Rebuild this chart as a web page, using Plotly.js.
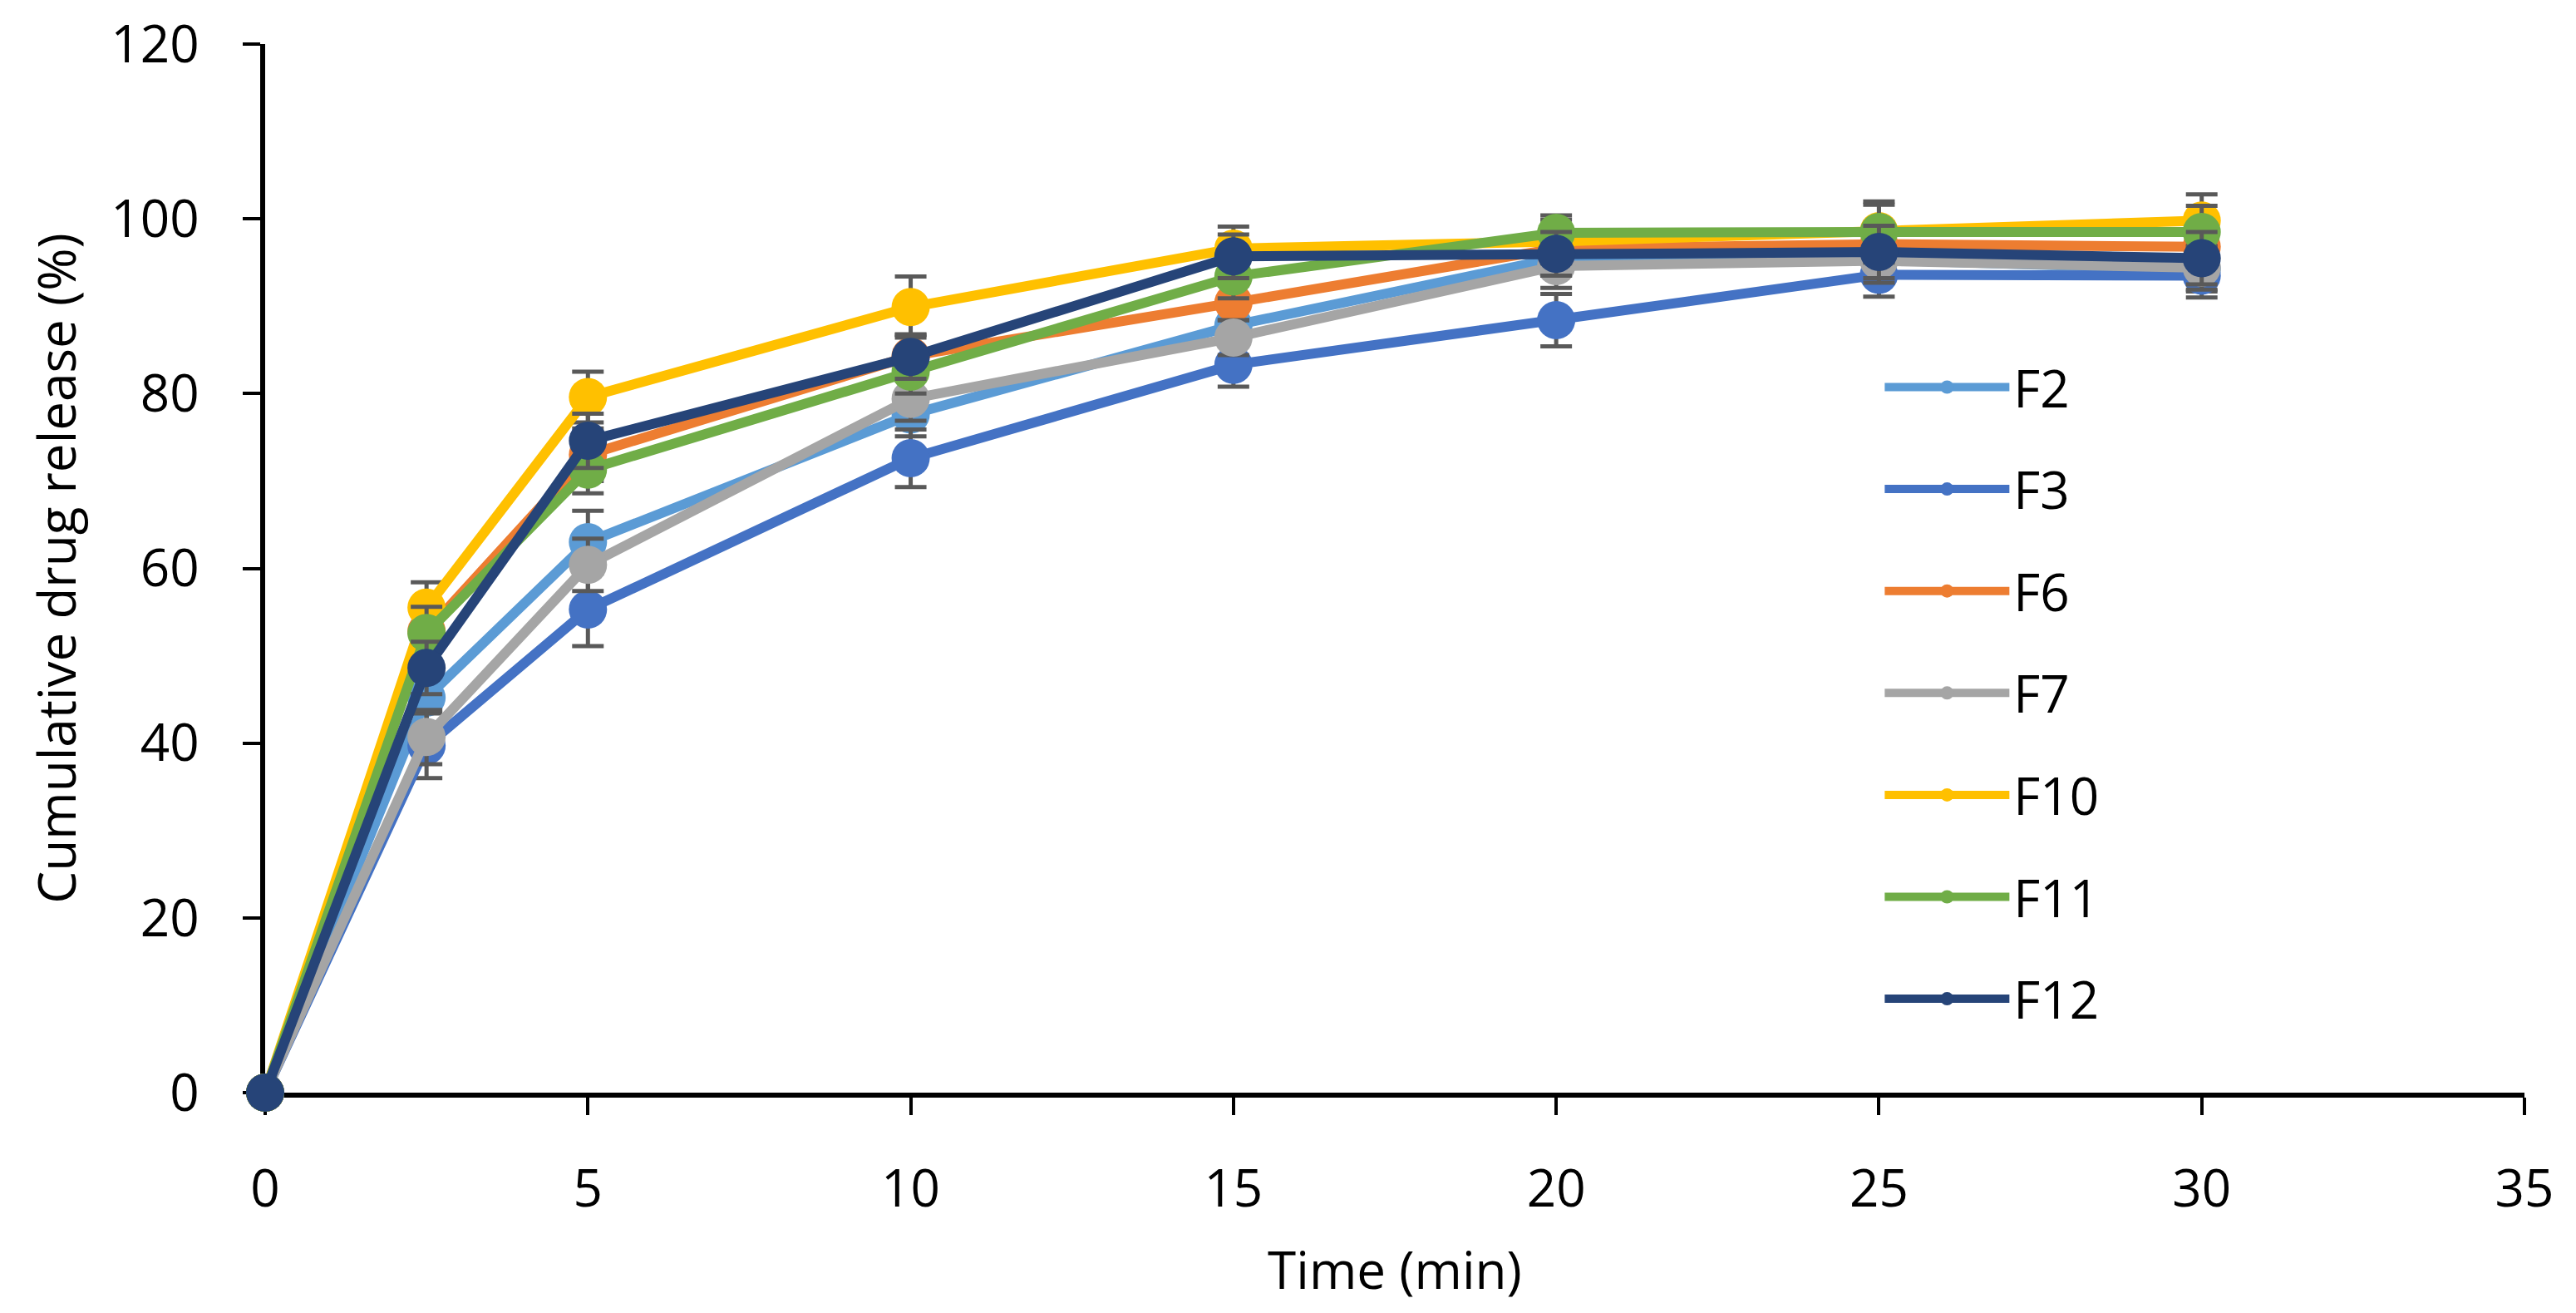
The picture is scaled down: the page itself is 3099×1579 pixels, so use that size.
<!DOCTYPE html>
<html>
<head>
<meta charset="utf-8">
<script src="https://cdn.plot.ly/plotly-3.0.1.min.js"></script>
<style>html,body{margin:0;padding:0;background:#fff;}#chart{width:3099px;height:1579px;}</style>
</head>
<body>
<div id="chart"></div>
<script>
// Time points (min)
const time = [0, 2.5, 5, 10, 15, 20, 25, 30];

// Series names
const seriesNames = ["F2", "F3", "F6", "F7", "F10", "F11", "F12"];

// Cumulative drug release (%)
const F2  = [0, 45.2, 63.0, 77.6, 87.8, 95.5, 95.3, 94.2];
const F3  = [0, 39.7, 55.3, 72.6, 83.3, 88.4, 93.6, 93.5];
const F6  = [0, 52.8, 73.0, 84.3, 90.4, 96.6, 97.1, 96.8];
const F7  = [0, 40.7, 60.4, 79.4, 86.4, 94.6, 95.2, 94.4];
const F10 = [0, 55.5, 79.6, 89.9, 96.6, 97.4, 98.6, 99.8];
const F11 = [0, 52.6, 71.3, 82.5, 93.4, 98.4, 98.5, 98.5];
const F12 = [0, 48.6, 74.6, 84.2, 95.7, 96.0, 96.2, 95.5];

// Standard deviations (error bars)
const F2_sd  = [0, 3.0, 3.6, 2.5, 2.0, 2.0, 2.5, 2.5];
const F3_sd  = [0, 3.7, 4.2, 3.3, 2.5, 3.0, 2.5, 2.5];
const F6_sd  = [0, 3.5, 3.0, 2.5, 2.0, 2.0, 2.5, 2.5];
const F7_sd  = [0, 3.1, 3.0, 2.5, 2.0, 2.5, 2.5, 2.5];
const F10_sd = [0, 2.9, 2.9, 3.5, 2.5, 2.5, 3.0, 3.0];
const F11_sd = [0, 3.0, 2.7, 2.5, 2.5, 2.0, 3.5, 3.0];
const F12_sd = [0, 3.0, 3.1, 2.5, 2.5, 2.5, 3.0, 3.0];

const seriesValues = [F2, F3, F6, F7, F10, F11, F12];
const seriesSD = [F2_sd, F3_sd, F6_sd, F7_sd, F10_sd, F11_sd, F12_sd];
const seriesColors = ["#5B9BD5", "#4472C4", "#ED7D31", "#A5A5A5", "#FFC000", "#70AD47", "#264478"];

const FONT = "Open Sans, Liberation Sans, sans-serif";

const traces = seriesNames.map((name, i) => ({
  type: "scatter",
  mode: "lines+markers",
  name: name,
  legendgroup: name,
  cliponaxis: false,
  x: time,
  y: seriesValues[i],
  line: {color: seriesColors[i], width: 12},
  marker: {color: seriesColors[i], size: 46},
  error_y: {type: "data", array: seriesSD[i].map(v => (v > 0 ? v : null)), visible: true, color: "#595959", thickness: 5, width: 19}
}));

const layout = {
  width: 3099,
  height: 1579,
  paper_bgcolor: "#ffffff",
  plot_bgcolor: "#ffffff",
  margin: {l: 319, r: 62, t: 53, b: 265},
  font: {family: FONT, color: "#000000", size: 62},
  showlegend: true,
  legend: {
    x: 0.715, xanchor: "left",
    y: 0.71, yanchor: "top",
    bgcolor: "rgba(0,0,0,0)",
    font: {family: FONT, size: 62, color: "#000000"},
    tracegroupgap: 39,
    itemwidth: 150
  },
  xaxis: {
    range: [0, 35],
    tick0: 0, dtick: 5,
    showgrid: false, zeroline: false,
    showline: true, linecolor: "#000000", linewidth: 6,
    ticks: "outside", ticklen: 21, tickwidth: 4, tickcolor: "#000000",
    ticklabelstandoff: 36,
    layer: "below traces",
    tickfont: {family: FONT, size: 62, color: "#000000"},
    title: {text: "Time (min)", font: {family: FONT, size: 62, color: "#000000"}, standoff: 40}
  },
  yaxis: {
    range: [0, 120],
    tick0: 0, dtick: 20,
    showgrid: false, zeroline: false,
    showline: true, linecolor: "#000000", linewidth: 6,
    ticks: "outside", ticklen: 21, tickwidth: 4, tickcolor: "#000000",
    ticklabelstandoff: 40,
    layer: "below traces",
    tickfont: {family: FONT, size: 62, color: "#000000"},
    title: {text: "Cumulative drug release (%)", font: {family: FONT, size: 62, color: "#000000"}, standoff: 24}
  }
};

Plotly.newPlot("chart", traces, layout, {staticPlot: true, displayModeBar: false});
</script>
</body>
</html>
